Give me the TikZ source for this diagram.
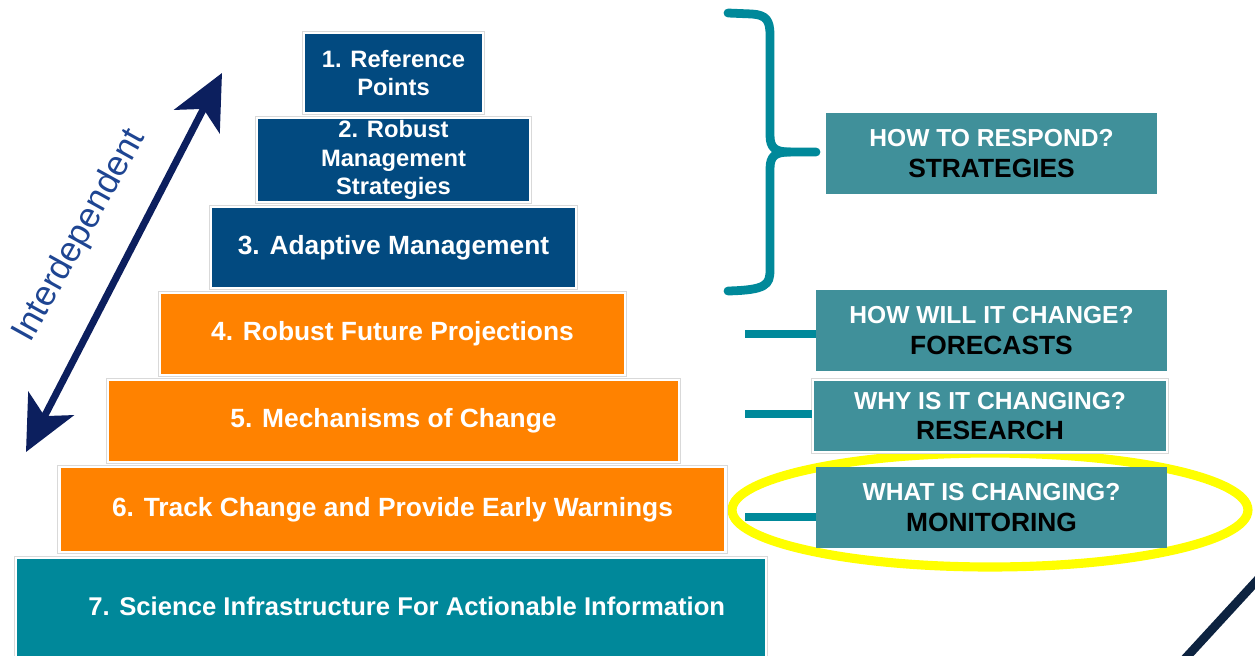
\documentclass[tikz,border=0pt]{standalone}
\usepackage{fontspec}
\setmainfont{Liberation Sans}
\usetikzlibrary{arrows.meta}
\definecolor{navybox}{HTML}{024A80}
\definecolor{orangebox}{HTML}{FF8200}
\definecolor{tealbase}{HTML}{00889A}
\definecolor{qteal}{HTML}{40909A}
\definecolor{braceteal}{HTML}{00899A}
\definecolor{arrownavy}{HTML}{0C1F5E}
\definecolor{intblue}{HTML}{1E4592}
\definecolor{hiyellow}{HTML}{FFFF00}
\definecolor{cornernavy}{HTML}{0D2340}
\begin{document}
\begin{tikzpicture}[x=0.02cm,y=-0.02cm,
  wh/.style 2 args={minimum width=#1*0.02cm, minimum height=#2*0.02cm},
  tier/.style={draw=white, line width=1.4pt, preaction={draw=gray!30, line width=2.6pt},
    text=white, align=center, inner sep=0pt,
    font=\bfseries\fontsize{15}{16}\selectfont},
  smalltier/.style={font=\bfseries\fontsize{13.5}{16}\selectfont},
  qbox/.style={fill=qteal, align=center, inner sep=0pt, text=white,
    font=\bfseries\fontsize{14}{17.5}\selectfont},
  qborder/.style={draw=white, line width=1.4pt, preaction={draw=gray!30, line width=2.6pt}},
  tick/.style={draw=braceteal, line width=5pt},
  brace/.style={draw=braceteal, line width=5pt, line cap=round, line join=round},
  biarrow/.style={draw=arrownavy, line width=4pt,
    {Stealth[length=31pt,width=29pt,inset=8pt]}-{Stealth[length=31pt,width=29pt,inset=8pt]}}
]
\useasboundingbox (0,0) rectangle (1255,656);
\clip (0,0) rectangle (1255,656);

% highlight ellipse (behind boxes)
\draw[hiyellow, line width=5.2pt] (990,510) ellipse [x radius=5.16cm, y radius=1.14cm];

% pyramid tiers
\node[tier, smalltier, fill=navybox, wh={179}{80}] (t1) at (393.5,73) {1. Reference\\Points};
\node[tier, smalltier, fill=navybox, wh={273}{84}] (t2) at (393.5,160) {2. Robust\\Management\\Strategies};
\node[tier, fill=navybox, wh={365}{81}] (t3) at (393.5,247.5) {3. Adaptive Management};
\node[tier, fill=orangebox, wh={465}{82}] (t4) at (392.5,334) {4. Robust Future Projections};
\node[tier, fill=orangebox, wh={571}{82}] (t5) at (393.5,421) {5. Mechanisms of Change};
\node[tier, fill=orangebox, wh={666}{85}, font=\bfseries\fontsize{15}{16}\selectfont] (t6) at (392.5,509.5) {6. Track Change and Provide Early Warnings};
\node[tier, fill=tealbase, wh={750}{106}, font=\bfseries\fontsize{14.6}{16}\selectfont] (t7) at (391,611) {\hspace*{18pt}\raisebox{5pt}{7. Science Infrastructure For Actionable Information}};

% question boxes
\node[qbox, wh={331}{81}] (qs) at (991.5,153.5) {HOW TO RESPOND?\\{\color{black}\fontsize{15}{17}\selectfont STRATEGIES}};
\node[qbox, wh={351}{81}] (qf) at (991.5,330.5) {HOW WILL IT CHANGE?\\{\color{black}\fontsize{15}{17}\selectfont FORECASTS}};
\node[qbox, qborder, wh={354}{72}] (qr) at (990,416) {WHY IS IT CHANGING?\\{\color{black}\fontsize{15}{17}\selectfont RESEARCH}};
\node[qbox, wh={351}{81}] (qm) at (991.5,507.5) {WHAT IS CHANGING?\\{\color{black}\fontsize{15}{17}\selectfont MONITORING}};

% ticks
\coordinate (tf) at (745,334);
\coordinate (tr) at (745,414);
\coordinate (tm) at (745,517);
\draw[tick] (tf) -- (tf -| qf.west);
\draw[tick] (tr) -- (tr -| qr.west);
\draw[tick] (tm) -- (tm -| qm.west);

% brace
\coordinate (btop) at (728,13);
\coordinate (bbot) at (728,291);
\coordinate (btip) at (816,152);
\draw[brace] (btop) -- (752,14) .. controls (766,15) and (770,20) .. (770,35)
  -- (770,135) .. controls (770,148) and (775,152) .. (790,152) -- (btip);
\draw[brace] (790,152) .. controls (775,152) and (770,156) .. (770,169)
  -- (770,270) .. controls (770,285) and (766,290) .. (bbot);

% interdependent arrow
\coordinate (alow) at (26,452);
\coordinate (ahigh) at (222,73);
\draw[biarrow] (alow) -- (ahigh);
\node[rotate=61, text=intblue, font=\fontsize{20}{24}\selectfont] (inter) at (80,236) {Interdependent};

% corner decoration
\draw[cornernavy, line width=5pt] (1182,662) -- (1262,575);
\end{tikzpicture}
\end{document}
